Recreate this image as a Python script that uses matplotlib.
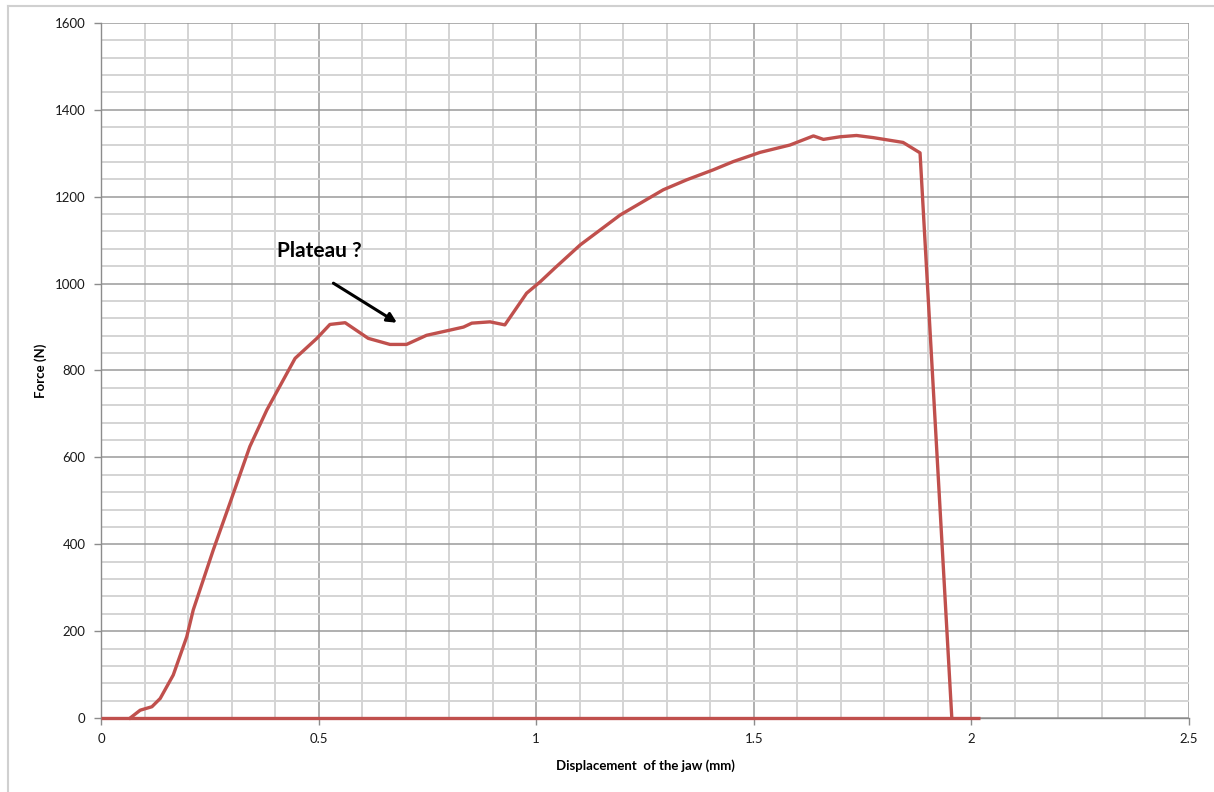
import matplotlib.pyplot as plt
from matplotlib.lines import Line2D
from matplotlib.ticker import FuncFormatter, MultipleLocator

# displacement of the jaw (mm) and force (N)
displacement = [0.067, 0.09, 0.117, 0.136, 0.166, 0.197, 0.212, 0.235, 0.258,
                0.296, 0.342, 0.381, 0.446, 0.496, 0.526, 0.561, 0.614, 0.664,
                0.702, 0.748, 0.802, 0.833, 0.852, 0.894, 0.928, 0.978, 1.009,
                1.043, 1.101, 1.193, 1.292, 1.346, 1.407, 1.453, 1.491, 1.514,
                1.583, 1.637, 1.66, 1.698, 1.736, 1.775, 1.843, 1.882, 1.955]
force = [0, 18, 26, 45, 99, 187, 249, 318, 387,
         494, 625, 709, 828, 874, 906, 910, 874, 860,
         860, 881, 893, 900, 909, 912, 905, 978, 1004,
         1036, 1089, 1158, 1216, 1239, 1262, 1281, 1294, 1302,
         1319, 1340, 1332, 1338, 1341, 1336, 1325, 1301, 0]

baseline_x = [0, 2.02]
baseline_y = [0, 0]

annotation_text = "Plateau ?"
arrow_tail = (0.534, 1001)
arrow_head = (0.68, 910)

plt.rcParams["font.family"] = ["Lato", "DejaVu Sans"]

fig = plt.figure(figsize=(12.14, 7.92), dpi=100)
ax = fig.add_axes([0.0832, 0.0934, 0.8962, 0.8776])

red = "#c0504d"
ax.plot(baseline_x, baseline_y, color=red, lw=2.4, solid_capstyle="butt",
        clip_on=False, zorder=3)
ax.plot(displacement, force, color=red, lw=2.4, clip_on=False, zorder=4)

ax.set_xlim(0, 2.5)
ax.set_ylim(0, 1600)
ax.xaxis.set_major_locator(MultipleLocator(0.5))
ax.xaxis.set_minor_locator(MultipleLocator(0.1))
ax.yaxis.set_major_locator(MultipleLocator(200))
ax.yaxis.set_minor_locator(MultipleLocator(40))
ax.xaxis.set_major_formatter(FuncFormatter(lambda v, pos: f"{v:g}"))

ax.grid(which="minor", color="#d4d4d4", lw=1.4)
ax.grid(which="major", color="#9a9a9a", lw=1.1)
ax.set_axisbelow(True)

ax.tick_params(which="major", length=5, width=1, color="#8c8c8c",
               labelsize=9.5, labelcolor="#1a1a1a", pad=6)
ax.tick_params(which="minor", length=0)

for side in ["top", "right"]:
    ax.spines[side].set_visible(False)
for side in ["left", "bottom"]:
    ax.spines[side].set_color("#8c8c8c")
    ax.spines[side].set_linewidth(1)

ax.set_xlabel("Displacement  of the jaw (mm)", fontsize=9.5, fontweight="bold", labelpad=10)
ax.set_ylabel("Force (N)", fontsize=9.5, fontweight="bold", labelpad=6)

ax.text(0.405, 1075, annotation_text, fontsize=15, fontweight="bold",
        ha="left", va="center", color="black")
ax.annotate("", xy=arrow_head, xytext=arrow_tail,
            arrowprops=dict(arrowstyle="-|>", color="black", lw=2.2,
                            mutation_scale=14, shrinkA=0, shrinkB=0))

# light frame of the chart area
fig.add_artist(Line2D([8 / 1214, 1], [1 - 6 / 792, 1 - 6 / 792], color="#d0d0d0", lw=1.5))
fig.add_artist(Line2D([8 / 1214, 8 / 1214], [0, 1 - 6 / 792], color="#d0d0d0", lw=1.5))

fig.savefig("out.png", dpi=100)
